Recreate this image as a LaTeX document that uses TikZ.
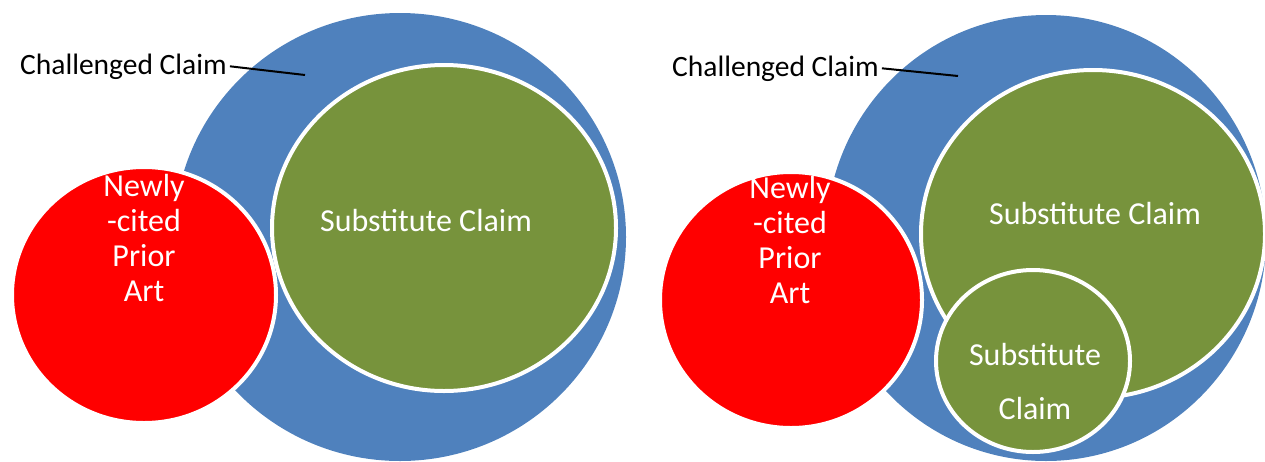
\documentclass[tikz,border=0pt]{standalone}
\usepackage{fontspec}
\setmainfont{Carlito}
\usetikzlibrary{shapes.geometric}
\definecolor{cblue}{HTML}{4F81BD}
\definecolor{cgreen}{HTML}{77933C}
\definecolor{cred}{HTML}{FF0000}
\tikzset{
  blob/.style={ellipse, inner sep=0pt, outer sep=0pt},
  bordered/.style={blob, draw=white, line width=4pt},
  wtext/.style={text=white, font=\fontsize{32}{35}\selectfont, align=center, inner sep=0pt},
  ltext/.style={text=black, font=\fontsize{29.5}{34}\selectfont, inner sep=0pt},
  leader/.style={draw=black, line width=2pt}
}
\begin{document}
\begin{tikzpicture}[x=1pt,y=-1pt]
\useasboundingbox (0,0) rectangle (1265,461);
% ---------- left panel ----------
\node[blob, fill=cblue, minimum width=452pt, minimum height=448pt] (blueL) at (400,237) {};
\node[bordered, fill=cgreen, minimum width=344pt, minimum height=326pt] (greenL) at (444,228) {};
\node[bordered, fill=cred, minimum width=264pt, minimum height=256pt] (redL) at (144,295) {};
\node[wtext] (subL) at (426,221) {Substitute Claim};
\node[wtext] (priorL) at (144,238) {Newly\\-cited\\Prior\\Art};
\node[ltext, anchor=base west] (chalL) at (20,74) {Challenged Claim};
\coordinate (chalLend) at (305,75);
\draw[leader] (chalL.east) ++(3pt,0) -- (chalLend);
% ---------- right panel ----------
\node[blob, fill=cblue, minimum width=440pt, minimum height=446pt] (blueR) at (1046,238) {};
\node[bordered, fill=cgreen, minimum width=344pt, minimum height=328pt] (greenR) at (1093,234) {};
\node[bordered, fill=cgreen, minimum width=194pt, minimum height=182pt] (smallR) at (1033,361) {};
\node[bordered, fill=cred, minimum width=262pt, minimum height=256pt] (redR) at (791,300) {};
\node[wtext] (subR) at (1095,214) {Substitute Claim};
\node[wtext, font=\fontsize{32}{54}\selectfont] (subsmallR) at (1035,381) {Substitute\\Claim};
\node[wtext] (priorR) at (790,240) {Newly\\-cited\\Prior\\Art};
\node[ltext, anchor=base west] (chalR) at (672,76) {Challenged Claim};
\coordinate (chalRend) at (958,76);
\draw[leader] (chalR.east) ++(3pt,0) -- (chalRend);
\end{tikzpicture}
\end{document}
